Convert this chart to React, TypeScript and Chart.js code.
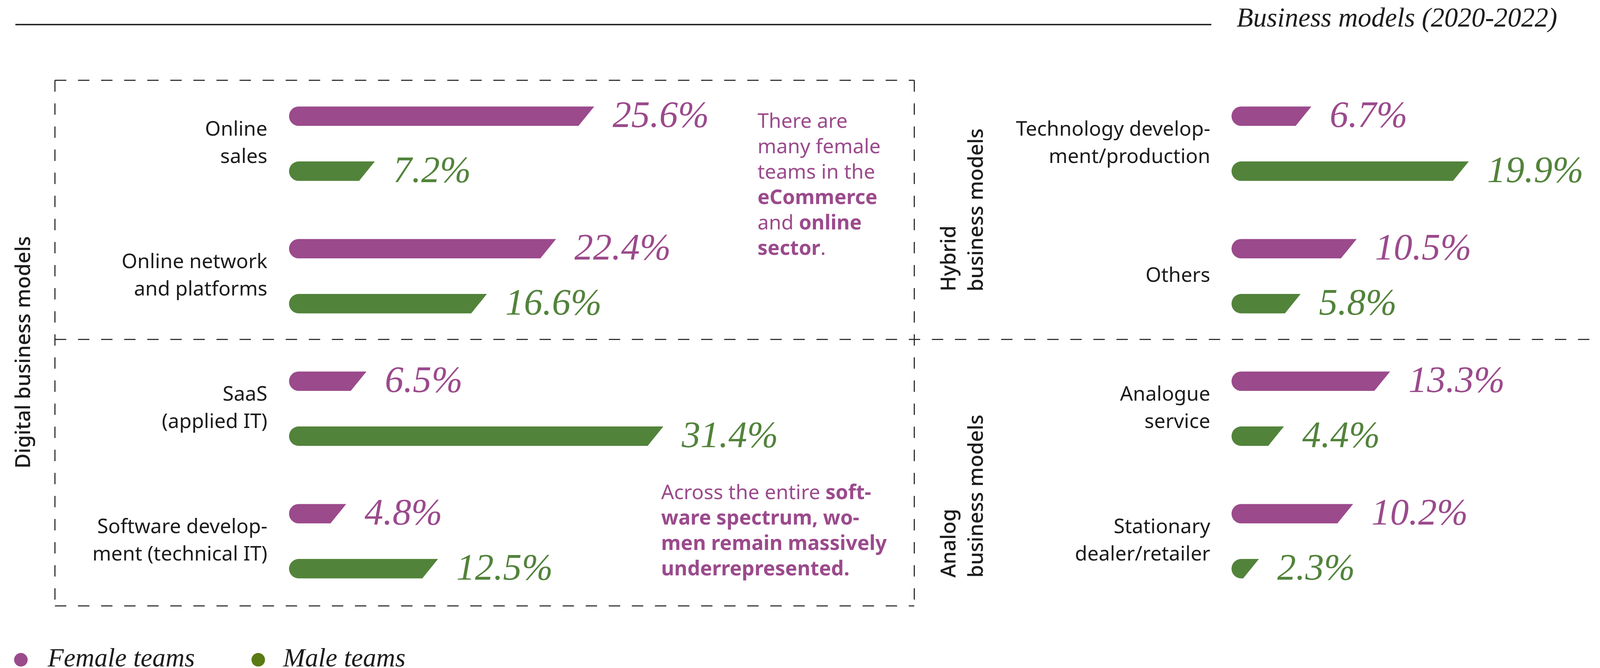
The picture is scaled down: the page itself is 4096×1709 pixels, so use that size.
import React, { useEffect, useRef } from "react";
import { Chart, registerables } from "chart.js";

Chart.register(...registerables);

// ---------- sizing (reference is 4368 x 1822, drawn at 0.937) ----------
const REF_W = 4368;
const W = 4096;
const H = 1709;
const S = W / REF_W;
const px = (v: number) => v * S;

// ---------- data ----------
const seriesNames = ["Female teams", "Male teams"];

const digitalCategories = [
  ["Online", "sales"],
  ["Online network", "and platforms"],
  ["SaaS", "(applied IT)"],
  ["Software develop-", "ment (technical IT)"],
];
const digitalFemale = [25.6, 22.4, 6.5, 4.8];
const digitalMale = [7.2, 16.6, 31.4, 12.5];

const otherCategories = [
  ["Technology develop-", "ment/production"],
  ["Others"],
  ["Analogue", "service"],
  ["Stationary", "dealer/retailer"],
];
const otherFemale = [6.7, 10.5, 13.3, 10.2];
const otherMale = [19.9, 5.8, 4.4, 2.3];

const title = "Business models (2020-2022)";
const groupDigital = ["Digital business models"];
const groupHybrid = ["Hybrid", "business models"];
const groupAnalog = ["Analog", "business models"];

// annotation runs: [text, bold]
const noteOnline: [string, boolean][][] = [
  [["There are", false]],
  [["many female", false]],
  [["teams in the", false]],
  [["eCommerce", true]],
  [["and ", false], ["online", true]],
  [["sector", true], [".", false]],
];
const noteSoftware: [string, boolean][][] = [
  [["Across the entire ", false], ["soft-", true]],
  [["ware spectrum, wo-", true]],
  [["men remain massively", true]],
  [["underrepresented.", true]],
];

// ---------- styles ----------
const PURPLE = "#9B4A8C";
const GREEN = "#52833B";
const GREEN_LEGEND = "#5A7A14";
const INK = "#1c1c1c";
const RULE = "#262626";
const SANS = '"Noto Sans", "Open Sans", sans-serif';
const SERIF = '"Liberation Serif", "DejaVu Serif", serif';

const PX_PER_PCT = 32.55; // reference pixels per percentage point
const ROW_BAND = 361.5; // reference pixels per category
const CAT_PCT = (4 * 75) / ROW_BAND;
const BAR_PCT = 53 / ((ROW_BAND * CAT_PCT) / 2);
const AREA_TOP = 211.25;
const AREA_BOTTOM = 1657.25;

// ---------- plugins ----------
const slantBars = {
  id: "slantBars",
  beforeDatasetDraw(chart: any, args: any) {
    const ctx = chart.ctx;
    const ds = chart.data.datasets[args.index];
    ctx.save();
    ctx.fillStyle = ds.backgroundColor;
    args.meta.data.forEach((el: any) => {
      const { x, y, base, height } = el.getProps(["x", "y", "base", "height"], true);
      const top = y - height / 2;
      const bottom = y + height / 2;
      const r = height / 2;
      const slant = (height * 43) / 53;
      const cx = Math.min(base, x) + r;
      const tx = Math.max(x, cx);
      const bx = Math.max(cx, x - slant);
      ctx.beginPath();
      ctx.moveTo(cx, top);
      ctx.lineTo(tx, top);
      ctx.lineTo(bx, bottom);
      ctx.lineTo(cx, bottom);
      ctx.arc(cx, y, r, Math.PI / 2, Math.PI * 1.5);
      ctx.closePath();
      ctx.fill();
    });
    ctx.restore();
    return false;
  },
  afterDatasetsDraw(chart: any) {
    const ctx = chart.ctx;
    ctx.save();
    ctx.font = `italic ${px(102)}px ${SERIF}`;
    ctx.textAlign = "left";
    ctx.textBaseline = "alphabetic";
    chart.data.datasets.forEach((ds: any, i: number) => {
      const meta = chart.getDatasetMeta(i);
      ctx.fillStyle = ds.backgroundColor;
      meta.data.forEach((el: any, j: number) => {
        const { x, y } = el.getProps(["x", "y"], true);
        ctx.fillText(`${Number(ds.data[j]).toFixed(1)}%`, x + px(50), y + px(30));
      });
    });
    ctx.restore();
  },
};

function line(ctx: CanvasRenderingContext2D, x1: number, y1: number, x2: number, y2: number) {
  ctx.beginPath();
  ctx.moveTo(px(x1), px(y1));
  ctx.lineTo(px(x2), px(y2));
  ctx.stroke();
}

function drawRuns(ctx: CanvasRenderingContext2D, lines: [string, boolean][][], x: number, y0: number, step: number) {
  lines.forEach((runs, li) => {
    let cx = px(x);
    const y = px(y0 + li * step);
    runs.forEach(([t, bold]) => {
      ctx.font = `${bold ? "bold " : ""}${px(55)}px ${SANS}`;
      ctx.fillText(t, cx, y);
      cx += ctx.measureText(t).width;
    });
  });
}

function drawRotated(ctx: CanvasRenderingContext2D, lines: string[], baselines: number[], startY: number) {
  lines.forEach((t, i) => {
    ctx.save();
    ctx.translate(px(baselines[i]), px(startY));
    ctx.rotate(-Math.PI / 2);
    ctx.fillText(t, 0, 0);
    ctx.restore();
  });
}

const decor = {
  id: "decor",
  afterDraw(chart: any) {
    const ctx: CanvasRenderingContext2D = chart.ctx;
    ctx.save();
    ctx.textAlign = "left";
    ctx.textBaseline = "alphabetic";

    // top rule
    ctx.strokeStyle = RULE;
    ctx.lineWidth = px(4);
    ctx.setLineDash([]);
    line(ctx, 42, 67, 3307, 67);

    // title
    ctx.fillStyle = INK;
    ctx.font = `italic ${px(74)}px ${SERIF}`;
    ctx.fillText(title, px(3376), px(73));

    // dashed frame + divider
    ctx.lineWidth = px(3);
    ctx.setLineDash([px(31), px(32)]);
    line(ctx, 150, 219, 2496, 219);
    line(ctx, 150, 219, 150, 1653);
    line(ctx, 2496, 219, 2496, 1653);
    line(ctx, 150, 1653, 2496, 1653);
    line(ctx, 150, 926, 4368, 926);
    ctx.setLineDash([]);

    // rotated group labels
    ctx.fillStyle = INK;
    ctx.font = `500 ${px(56)}px ${SANS}`;
    drawRotated(ctx, groupDigital, [82], 1278);
    drawRotated(ctx, groupHybrid, [2608, 2683], 795);
    drawRotated(ctx, groupAnalog, [2608, 2683], 1576);

    // annotations
    ctx.fillStyle = PURPLE;
    drawRuns(ctx, noteOnline, 2068, 349, 69.2);
    drawRuns(ctx, noteSoftware, 1805, 1362, 69.2);

    // legend
    const legendColors = [PURPLE, GREEN_LEGEND];
    const legendCircleX = [57, 705];
    const legendTextX = [130, 773];
    seriesNames.forEach((name, i) => {
      ctx.fillStyle = legendColors[i];
      ctx.beginPath();
      ctx.ellipse(px(legendCircleX[i]), px(1800), px(18.5), px(18.5), 0, 0, Math.PI * 2);
      ctx.fill();
      ctx.fillStyle = INK;
      ctx.font = `italic ${px(72)}px ${SERIF}`;
      ctx.fillText(name, px(legendTextX[i]), px(1818));
    });

    ctx.restore();
  },
};

function makeConfig(
  categories: string[][],
  female: number[],
  male: number[],
  xMax: number,
  areaLeft: number,
  axisWidth: number,
  labelGap: number,
  extra: any[]
): any {
  const areaRight = areaLeft + xMax * PX_PER_PCT;
  return {
    type: "bar",
    data: {
      labels: categories,
      datasets: [
        { label: seriesNames[0], data: female, backgroundColor: PURPLE, categoryPercentage: CAT_PCT, barPercentage: BAR_PCT },
        { label: seriesNames[1], data: male, backgroundColor: GREEN, categoryPercentage: CAT_PCT, barPercentage: BAR_PCT },
      ],
    },
    options: {
      indexAxis: "y",
      responsive: false,
      animation: false,
      devicePixelRatio: 1,
      events: [],
      layout: {
        padding: {
          left: px(areaLeft - axisWidth),
          right: W - px(areaRight),
          top: px(AREA_TOP),
          bottom: H - px(AREA_BOTTOM),
        },
      },
      plugins: { legend: { display: false }, tooltip: { enabled: false } },
      scales: {
        x: { type: "linear", display: false, min: 0, max: xMax },
        y: {
          type: "category",
          position: "left",
          offset: true,
          grid: { display: false, drawTicks: false },
          border: { display: false },
          ticks: {
            autoSkip: false,
            padding: px(labelGap),
            color: INK,
            font: { family: SANS, size: px(55), lineHeight: 75 / 55 },
          },
          afterFit: (scale: any) => {
            scale.width = px(axisWidth);
          },
        },
      },
    },
    plugins: [slantBars, ...extra],
  };
}

export default function App() {
  const leftRef = useRef<HTMLCanvasElement | null>(null);
  const rightRef = useRef<HTMLCanvasElement | null>(null);

  useEffect(() => {
    const left = new Chart(
      leftRef.current as HTMLCanvasElement,
      makeConfig(digitalCategories, digitalFemale, digitalMale, 40, 789, 789, 59, [decor])
    );
    const right = new Chart(
      rightRef.current as HTMLCanvasElement,
      makeConfig(otherCategories, otherFemale, otherMale, 30, 3362, 600, 58, [])
    );
    return () => {
      left.destroy();
      right.destroy();
    };
  }, []);

  const canvasStyle: React.CSSProperties = { position: "absolute", left: 0, top: 0, width: W, height: H };
  return (
    <div style={{ position: "fixed", left: 0, top: 0, width: W, height: H, background: "#ffffff", overflow: "hidden" }}>
      <canvas ref={leftRef} width={W} height={H} style={canvasStyle} />
      <canvas ref={rightRef} width={W} height={H} style={canvasStyle} />
    </div>
  );
}
